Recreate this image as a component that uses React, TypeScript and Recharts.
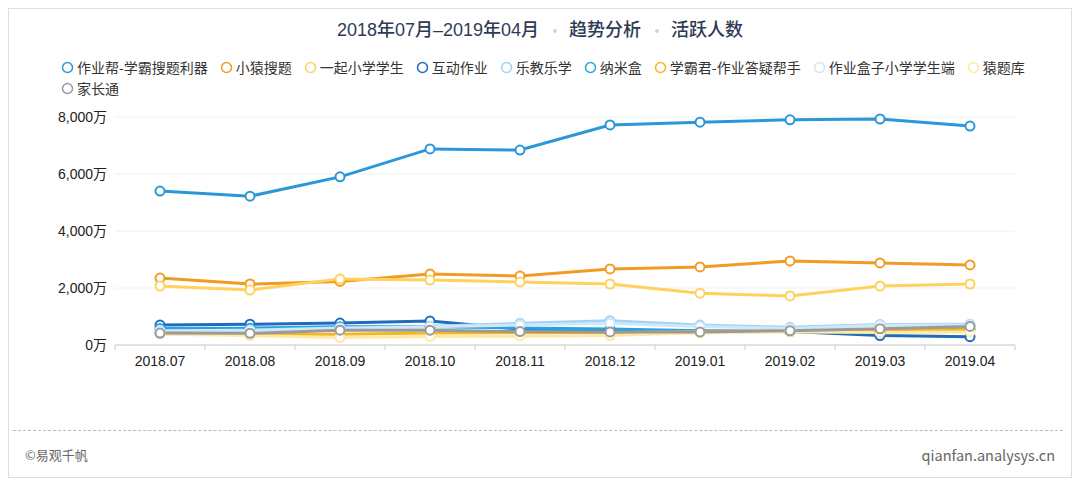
import React from 'react';
import { LineChart, Line, XAxis, YAxis, CartesianGrid } from 'recharts';

const months = ['2018.07', '2018.08', '2018.09', '2018.10', '2018.11', '2018.12', '2019.01', '2019.02', '2019.03', '2019.04'];

// 活跃人数 (万)
const zuoyebang = [5400, 5220, 5900, 6880, 6840, 7720, 7820, 7900, 7930, 7680];
const xiaoyuan = [2350, 2140, 2230, 2490, 2420, 2670, 2740, 2950, 2880, 2810];
const yiqi = [2070, 1930, 2320, 2280, 2210, 2140, 1820, 1720, 2070, 2140];
const hudong = [700, 730, 770, 840, 560, 520, 480, 470, 330, 290];
const lejiao = [540, 560, 630, 660, 760, 850, 700, 620, 720, 730];
const nami = [580, 590, 640, 640, 600, 560, 500, 480, 470, 560];
const xuebajun = [400, 360, 380, 420, 430, 430, 470, 500, 500, 540];
const hezi = [500, 520, 600, 640, 700, 760, 650, 580, 690, 700];
const yuantiku = [380, 330, 260, 300, 310, 330, 430, 460, 440, 460];
const jiazhang = [420, 410, 520, 520, 470, 460, 460, 500, 570, 650];

const yTicks = [0, 2000, 4000, 6000, 8000];

const seriesList = [
  { key: 'zuoyebang', name: '作业帮-学霸搜题利器', values: zuoyebang, color: '#2b97d8' },
  { key: 'xiaoyuan', name: '小猿搜题', values: xiaoyuan, color: '#f29b24' },
  { key: 'yiqi', name: '一起小学学生', values: yiqi, color: '#ffd25e' },
  { key: 'hudong', name: '互动作业', values: hudong, color: '#1f6cbd' },
  { key: 'lejiao', name: '乐教乐学', values: lejiao, color: '#a3d2f4' },
  { key: 'nami', name: '纳米盒', values: nami, color: '#27a4e0' },
  { key: 'xuebajun', name: '学霸君-作业答疑帮手', values: xuebajun, color: '#f4b71e' },
  { key: 'hezi', name: '作业盒子小学学生端', values: hezi, color: '#cfe7f9' },
  { key: 'yuantiku', name: '猿题库', values: yuantiku, color: '#ffe8a6' },
  { key: 'jiazhang', name: '家长通', values: jiazhang, color: '#9a9a9a' },
];

const data = months.map((m, i) => {
  const row: Record<string, string | number> = { month: m };
  seriesList.forEach((s) => {
    row[s.key] = s.values[i];
  });
  return row;
});

const font = '"Noto Sans CJK SC", "Noto Sans", sans-serif';
const numFont = '"Liberation Sans", "Noto Sans CJK SC", sans-serif';
const CHART_W = 1062;
const MARGIN_LEFT = 6;
const MARGIN_RIGHT = 56;
const Y_W = 100;
const plotW = CHART_W - MARGIN_LEFT - MARGIN_RIGHT - Y_W;
const half = plotW / months.length / 2;

const XTick = (props: any) => {
  const { x, y, payload, index } = props;
  return (
    <g>
      <line x1={x - half} x2={x - half} y1={y - 8} y2={y - 3} stroke="#ccc" />
      {index === months.length - 1 && (
        <line x1={x + half} x2={x + half} y1={y - 8} y2={y - 3} stroke="#ccc" />
      )}
      <text x={x} y={y + 13} textAnchor="middle" fill="#222" fontSize={14} fontFamily={numFont}>
        {payload.value}
      </text>
    </g>
  );
};

const fmt = (v: number) => `${v.toLocaleString('en-US')}万`;

const Sep = () => (
  <span
    style={{
      display: 'inline-block',
      width: 4,
      height: 4,
      borderRadius: '50%',
      background: '#d4d4d4',
      margin: '0 12px 0 14px',
      verticalAlign: 'middle',
    }}
  />
);

export default function App() {
  return (
    <div
      style={{
        position: 'relative',
        width: 1062,
        height: 468,
        border: '1px solid #dedede',
        background: '#fff',
        fontFamily: font,
      }}
    >
      <LineChart
        width={CHART_W}
        height={400}
        data={data}
        margin={{ top: 108, right: MARGIN_RIGHT, bottom: 34, left: MARGIN_LEFT }}
        style={{ position: 'absolute', left: 0, top: 0 }}
      >
        <CartesianGrid vertical={false} stroke="#f0f0f0" />
        <XAxis
          dataKey="month"
          padding={{ left: half, right: half }}
          axisLine={{ stroke: '#ccc' }}
          tickLine={false}
          tick={<XTick />}
          height={30}
          interval={0}
        />
        <YAxis
          domain={[0, 8000]}
          ticks={yTicks}
          tickFormatter={fmt}
          axisLine={false}
          tickLine={false}
          width={Y_W}
          tick={{ fill: '#222', fontSize: 14, fontFamily: numFont }}
        />
        {seriesList.map((s) => (
          <Line
            key={s.key}
            dataKey={s.key}
            name={s.name}
            stroke={s.color}
            strokeWidth={3}
            dot={{ r: 4.5, fill: '#fff', stroke: s.color, strokeWidth: 2 }}
            isAnimationActive={false}
          />
        ))}
      </LineChart>

      <div
        style={{
          position: 'absolute',
          top: 6,
          left: 0,
          width: '100%',
          textAlign: 'center',
          fontSize: 18,
          fontWeight: 500,
          color: '#2f3a55',
        }}
      >
        <span style={{ fontFamily: numFont }}>2018</span>年<span style={{ fontFamily: numFont }}>07</span>月
        <span style={{ fontFamily: numFont }}>–2019</span>年<span style={{ fontFamily: numFont }}>04</span>月
        <Sep />趋势分析
        <Sep />活跃人数
      </div>

      <div
        style={{
          position: 'absolute',
          top: 49,
          left: 52,
          width: 990,
          display: 'flex',
          flexWrap: 'wrap',
          columnGap: 12,
          rowGap: 2,
          fontSize: 14,
          color: '#333',
          lineHeight: '19px',
        }}
      >
        {seriesList.map((s) => (
          <div key={s.key} style={{ display: 'flex', alignItems: 'center' }}>
            <svg width={13} height={13} style={{ marginRight: 3 }}>
              <circle cx={6.5} cy={6.5} r={5} fill="#fff" stroke={s.color} strokeWidth={1.5} />
            </svg>
            {s.name}
          </div>
        ))}
      </div>

      <div
        style={{
          position: 'absolute',
          top: 421,
          left: 4,
          width: 1050,
          borderTop: '1px dashed #bbb',
        }}
      />
      <div style={{ position: 'absolute', top: 436, left: 16, fontSize: 13, color: '#666' }}>©易观千帆</div>
      <div style={{ position: 'absolute', top: 435, right: 16, fontSize: 14.5, color: '#666' }}>
        qianfan.analysys.cn
      </div>
    </div>
  );
}
